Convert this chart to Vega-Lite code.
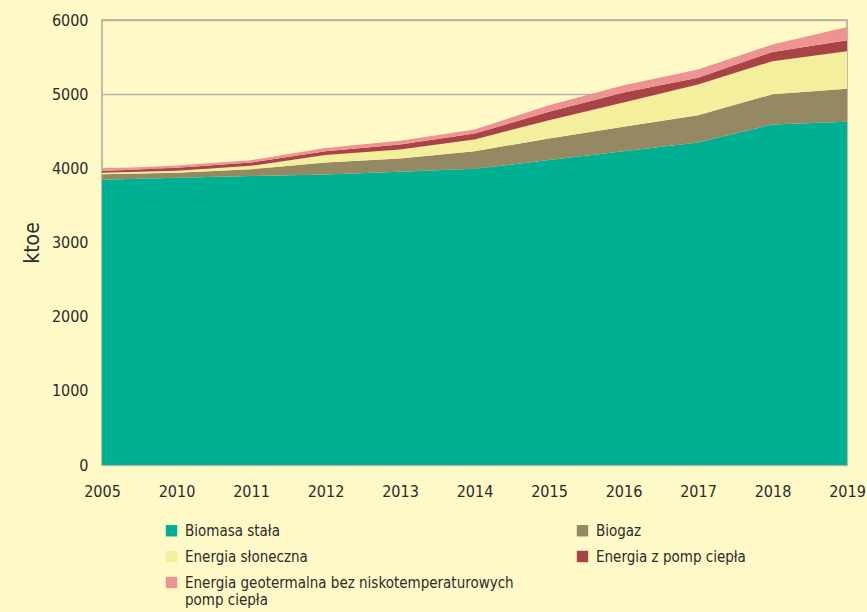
{
  "$schema": "https://vega.github.io/schema/vega-lite/v6.json",
  "autosize": {"type": "none"},
  "padding": {"left": 102, "top": 20, "right": 20, "bottom": 147},
  "width": 745,
  "height": 445,
  "background": "#FEF9C6",
  "config": {
    "view": {"stroke": "#A9A89C", "strokeWidth": 1.5, "fill": "#FEF9C6"},
    "font": "DejaVu Sans Condensed, Roboto, sans-serif"
  },
  "data": {
    "values": [
      {"year": "2005", "source": "Biomasa stała", "value": 3845},
      {"year": "2005", "source": "Biogaz", "value": 75},
      {"year": "2005", "source": "Energia słoneczna", "value": 20},
      {"year": "2005", "source": "Energia z pomp ciepła", "value": 25},
      {"year": "2005", "source": "Energia geotermalna bez niskotemperaturowych pomp ciepła", "value": 25},
      {"year": "2010", "source": "Biomasa stała", "value": 3872},
      {"year": "2010", "source": "Biogaz", "value": 67},
      {"year": "2010", "source": "Energia słoneczna", "value": 27},
      {"year": "2010", "source": "Energia z pomp ciepła", "value": 41},
      {"year": "2010", "source": "Energia geotermalna bez niskotemperaturowych pomp ciepła", "value": 32},
      {"year": "2011", "source": "Biomasa stała", "value": 3895},
      {"year": "2011", "source": "Biogaz", "value": 94},
      {"year": "2011", "source": "Energia słoneczna", "value": 45},
      {"year": "2011", "source": "Energia z pomp ciepła", "value": 45},
      {"year": "2011", "source": "Energia geotermalna bez niskotemperaturowych pomp ciepła", "value": 31},
      {"year": "2012", "source": "Biomasa stała", "value": 3918},
      {"year": "2012", "source": "Biogaz", "value": 161},
      {"year": "2012", "source": "Energia słoneczna", "value": 100},
      {"year": "2012", "source": "Energia z pomp ciepła", "value": 52},
      {"year": "2012", "source": "Energia geotermalna bez niskotemperaturowych pomp ciepła", "value": 44},
      {"year": "2013", "source": "Biomasa stała", "value": 3953},
      {"year": "2013", "source": "Biogaz", "value": 180},
      {"year": "2013", "source": "Energia słoneczna", "value": 122},
      {"year": "2013", "source": "Energia z pomp ciepła", "value": 67},
      {"year": "2013", "source": "Energia geotermalna bez niskotemperaturowych pomp ciepła", "value": 49},
      {"year": "2014", "source": "Biomasa stała", "value": 3993},
      {"year": "2014", "source": "Biogaz", "value": 239},
      {"year": "2014", "source": "Energia słoneczna", "value": 157},
      {"year": "2014", "source": "Energia z pomp ciepła", "value": 81},
      {"year": "2014", "source": "Energia geotermalna bez niskotemperaturowych pomp ciepła", "value": 54},
      {"year": "2015", "source": "Biomasa stała", "value": 4111},
      {"year": "2015", "source": "Biogaz", "value": 292},
      {"year": "2015", "source": "Energia słoneczna", "value": 247},
      {"year": "2015", "source": "Energia z pomp ciepła", "value": 112},
      {"year": "2015", "source": "Energia geotermalna bez niskotemperaturowych pomp ciepła", "value": 90},
      {"year": "2016", "source": "Biomasa stała", "value": 4232},
      {"year": "2016", "source": "Biogaz", "value": 327},
      {"year": "2016", "source": "Energia słoneczna", "value": 329},
      {"year": "2016", "source": "Energia z pomp ciepła", "value": 135},
      {"year": "2016", "source": "Energia geotermalna bez niskotemperaturowych pomp ciepła", "value": 98},
      {"year": "2017", "source": "Biomasa stała", "value": 4349},
      {"year": "2017", "source": "Biogaz", "value": 368},
      {"year": "2017", "source": "Energia słoneczna", "value": 414},
      {"year": "2017", "source": "Energia z pomp ciepła", "value": 89},
      {"year": "2017", "source": "Energia geotermalna bez niskotemperaturowych pomp ciepła", "value": 113},
      {"year": "2018", "source": "Biomasa stała", "value": 4592},
      {"year": "2018", "source": "Biogaz", "value": 408},
      {"year": "2018", "source": "Energia słoneczna", "value": 445},
      {"year": "2018", "source": "Energia z pomp ciepła", "value": 125},
      {"year": "2018", "source": "Energia geotermalna bez niskotemperaturowych pomp ciepła", "value": 100},
      {"year": "2019", "source": "Biomasa stała", "value": 4627},
      {"year": "2019", "source": "Biogaz", "value": 445},
      {"year": "2019", "source": "Energia słoneczna", "value": 508},
      {"year": "2019", "source": "Energia z pomp ciepła", "value": 148},
      {"year": "2019", "source": "Energia geotermalna bez niskotemperaturowych pomp ciepła", "value": 178}
    ]
  },
  "transform": [
    {"calculate": "indexof(['Biomasa stała', 'Biogaz', 'Energia słoneczna', 'Energia z pomp ciepła', 'Energia geotermalna bez niskotemperaturowych pomp ciepła'], datum.source)", "as": "stackOrder"}
  ],
  "mark": {"type": "area", "opacity": 1},
  "encoding": {
    "x": {
      "field": "year",
      "type": "ordinal",
      "scale": {"type": "point", "padding": 0},
      "axis": {
        "title": null,
        "labelAngle": 0,
        "ticks": false,
        "domain": false,
        "grid": false,
        "labelFontSize": 16,
        "labelColor": "#2B2B2B",
        "labelPadding": 18
      }
    },
    "y": {
      "field": "value",
      "type": "quantitative",
      "stack": "zero",
      "scale": {"domain": [0, 6000], "nice": false},
      "axis": {
        "title": "ktoe",
        "titleFontSize": 21,
        "titleFontWeight": "normal",
        "titleColor": "#2B2B2B",
        "titlePadding": 9,
        "values": [0, 1000, 2000, 3000, 4000, 5000, 6000],
        "format": "d",
        "ticks": false,
        "domain": false,
        "grid": true,
        "gridColor": "#B5B4A6",
        "gridWidth": 1.5,
        "labelFontSize": 16,
        "labelColor": "#2B2B2B",
        "labelPadding": 14
      }
    },
    "color": {
      "field": "source",
      "type": "nominal",
      "sort": ["Biomasa stała", "Biogaz", "Energia słoneczna", "Energia z pomp ciepła", "Energia geotermalna bez niskotemperaturowych pomp ciepła"],
      "scale": {
        "domain": ["Biomasa stała", "Biogaz", "Energia słoneczna", "Energia z pomp ciepła", "Energia geotermalna bez niskotemperaturowych pomp ciepła"],
        "range": ["#00B093", "#948963", "#F4EF9D", "#A84446", "#EE9393"]
      },
      "legend": {
        "title": null,
        "orient": "none",
        "direction": "horizontal",
        "legendX": 62,
        "legendY": 503,
        "columns": 2,
        "symbolType": "square",
        "symbolSize": 130,
        "symbolStrokeWidth": 0,
        "symbolOpacity": 1,
        "labelFontSize": 15,
        "labelColor": "#2B2B2B",
        "labelOffset": 6,
        "labelLimit": 0,
        "rowPadding": 10,
        "columnPadding": 61,
        "labelExpr": "datum.label == 'Energia geotermalna bez niskotemperaturowych pomp ciepła' ? ['Energia geotermalna bez niskotemperaturowych', 'pomp ciepła'] : datum.label"
      }
    },
    "order": {"field": "stackOrder", "type": "quantitative", "sort": "ascending"}
  }
}
